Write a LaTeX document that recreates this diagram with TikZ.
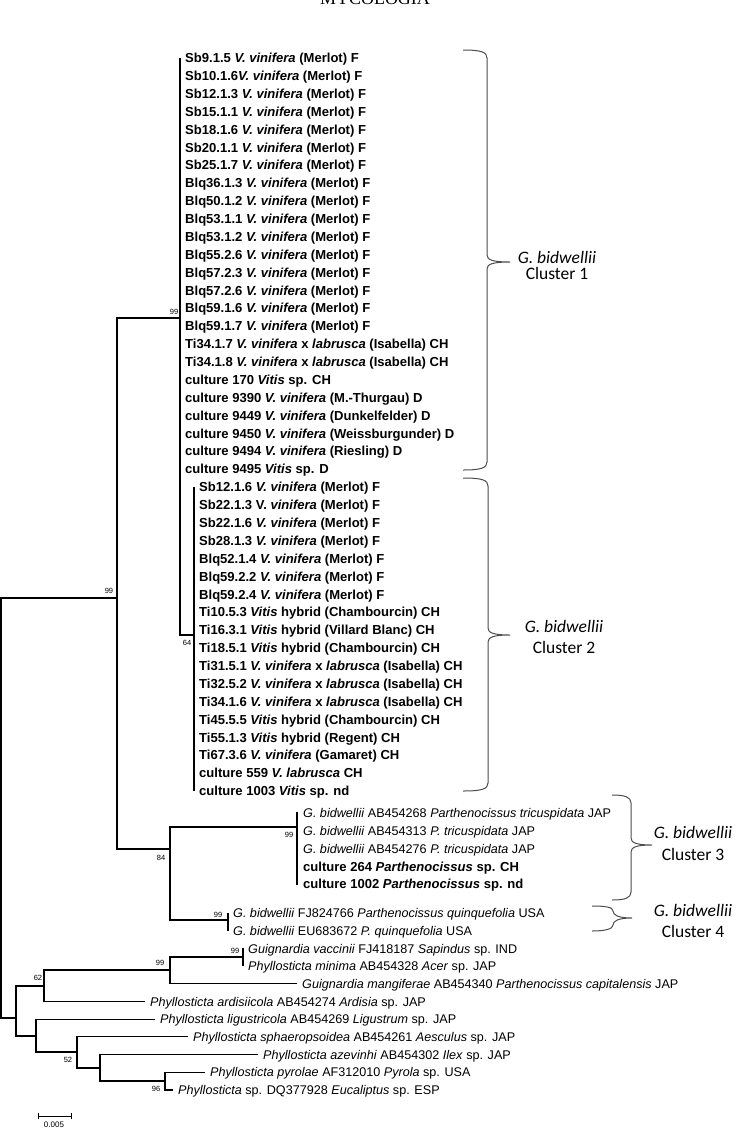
\documentclass[tikz,border=0pt]{standalone}
\usepackage{fontspec}
\setmainfont{Liberation Sans}
\newfontfamily\bracefont{Carlito}
\newfontfamily\headfont{Liberation Serif}
\newcommand\leafsize{\fontsize{12.6bp}{14bp}\selectfont}
\newcommand\leafbsize{\fontsize{13.05bp}{14bp}\selectfont}
\newcommand\clusterbrace[6]{%
  \draw[brace] (#1,#3) .. controls ({#2-6},#3) and (#2,{#3+2}) .. (#2,{#3+8})
    -- (#2,{#4-7}) .. controls (#2,{#4-2}) and ({#2+6},#4) .. (#6,#4)
    .. controls ({#2+6},#4) and (#2,{#4+2}) .. (#2,{#4+7})
    -- (#2,{#5-8}) .. controls (#2,{#5-2}) and ({#2-6},#5) .. (#1,#5);}
\begin{document}
\begin{tikzpicture}[x=1bp,y=-1bp,
  branch/.style={line width=1.1bp,black},
  brace/.style={line width=1bp,draw=black!70},
  leaf/.style={anchor=west,inner xsep=5bp,inner ysep=0pt,text height=9.4bp,text depth=0.2bp,font=\leafsize},
  leafb/.style={leaf,font=\leafbsize\bfseries},
  boot/.style={font=\fontsize{7.5bp}{8bp}\selectfont,inner sep=0pt},
  bl/.style={font=\bracefont\fontsize{17.5bp}{20bp}\selectfont,anchor=base,inner sep=0pt}]
\useasboundingbox (0,0) rectangle (740,1128);
% header (cut by page edge, as in the reference)
\node[font=\headfont\fontsize{18bp}{18bp}\selectfont,anchor=base,inner sep=0pt] (head) at (375,4) {MYCOLOGIA};

% internal nodes
\coordinate (root) at (1,808);
\coordinate (nA) at (117,598);
\coordinate (nClade) at (180,318);
\coordinate (n64) at (194,635);
\coordinate (n84) at (170,849);
\coordinate (n3) at (297,827);
\coordinate (n4) at (228,920);
\coordinate (nOut) at (16,1018);
\coordinate (n62) at (44,986);
\coordinate (n99g) at (170,970);
\coordinate (n99v) at (243,957);
\coordinate (n36) at (36,1036);
\coordinate (n52) at (77,1052);
\coordinate (n100) at (100,1068);
\coordinate (n96) at (165,1081);

% cluster 1 leaves
\foreach \t [count=\i] in {
 {Sb9.1.5 \textit{V. vinifera} (Merlot) F},
 {Sb10.1.6\textit{V. vinifera} (Merlot) F},
 {Sb12.1.3 \textit{V. vinifera} (Merlot) F},
 {Sb15.1.1 \textit{V. vinifera} (Merlot) F},
 {Sb18.1.6 \textit{V. vinifera} (Merlot) F},
 {Sb20.1.1 \textit{V. vinifera} (Merlot) F},
 {Sb25.1.7 \textit{V. vinifera} (Merlot) F},
 {Blq36.1.3 \textit{V. vinifera} (Merlot) F},
 {Blq50.1.2 \textit{V. vinifera} (Merlot) F},
 {Blq53.1.1 \textit{V. vinifera} (Merlot) F},
 {Blq53.1.2 \textit{V. vinifera} (Merlot) F},
 {Blq55.2.6 \textit{V. vinifera} (Merlot) F},
 {Blq57.2.3 \textit{V. vinifera} (Merlot) F},
 {Blq57.2.6 \textit{V. vinifera} (Merlot) F},
 {Blq59.1.6 \textit{V. vinifera} (Merlot) F},
 {Blq59.1.7 \textit{V. vinifera} (Merlot) F},
 {Ti34.1.7 \textit{V. vinifera} x \textit{labrusca} (Isabella) CH},
 {Ti34.1.8 \textit{V. vinifera} x \textit{labrusca} (Isabella) CH},
 {culture 170 \textit{Vitis} sp. CH},
 {culture 9390 \textit{V. vinifera} (M.-Thurgau) D},
 {culture 9449 \textit{V. vinifera} (Dunkelfelder) D},
 {culture 9450 \textit{V. vinifera} (Weissburgunder) D},
 {culture 9494 \textit{V. vinifera} (Riesling) D},
 {culture 9495 \textit{Vitis} sp. D}}
 \node[leafb] (c\i) at (180,{58+17.88*(\i-1)}) {\t};
% cluster 2 leaves
\foreach \t [count=\i] in {
 {Sb12.1.6 \textit{V. vinifera} (Merlot) F},
 {Sb22.1.3 V. \textit{vinifera} (Merlot) F},
 {Sb22.1.6 \textit{V. vinifera} (Merlot) F},
 {Sb28.1.3 \textit{V. vinifera} (Merlot) F},
 {Blq52.1.4 \textit{V. vinifera} (Merlot) F},
 {Blq59.2.2 \textit{V. vinifera} (Merlot) F},
 {Blq59.2.4 \textit{V. vinifera} (Merlot) F},
 {Ti10.5.3 \textit{Vitis} hybrid (Chambourcin) CH},
 {Ti16.3.1 \textit{Vitis} hybrid (Villard Blanc) CH},
 {Ti18.5.1 \textit{Vitis} hybrid (Chambourcin) CH},
 {Ti31.5.1 \textit{V. vinifera} x \textit{labrusca} (Isabella) CH},
 {Ti32.5.2 \textit{V. vinifera} x \textit{labrusca} (Isabella) CH},
 {Ti34.1.6 \textit{V. vinifera} x \textit{labrusca} (Isabella) CH},
 {Ti45.5.5 \textit{Vitis} hybrid (Chambourcin) CH},
 {Ti55.1.3 \textit{Vitis} hybrid (Regent) CH},
 {Ti67.3.6 \textit{V. vinifera} (Gamaret) CH},
 {culture 559 \textit{V. labrusca} CH},
 {culture 1003 \textit{Vitis} sp. nd}}
 \node[leafb] (d\i) at (194,{58+17.88*(\i+23)}) {\t};

% cluster 3 leaves
\node[leaf] (e1) at (298,813) {\textit{G. bidwellii} AB454268 \textit{Parthenocissus tricuspidata} JAP};
\node[leaf] (e2) at (298,830.8) {\textit{G. bidwellii} AB454313 \textit{P. tricuspidata} JAP};
\node[leaf] (e3) at (298,848.6) {\textit{G. bidwellii} AB454276 \textit{P. tricuspidata} JAP};
\node[leafb] (e4) at (298,866.4) {culture 264 \textit{Parthenocissus} sp. CH};
\node[leafb] (e5) at (298,884.2) {culture 1002 \textit{Parthenocissus} sp. nd};
% cluster 4 leaves
\node[leaf] (f1) at (228,913) {\textit{G. bidwellii} FJ824766 \textit{Parthenocissus quinquefolia} USA};
\node[leaf] (f2) at (228,930.7) {\textit{G. bidwellii} EU683672 \textit{P. quinquefolia} USA};
% outgroups
\node[leaf] (vac) at (243,948.4) {\textit{Guignardia vaccinii} FJ418187 \textit{Sapindus} sp. IND};
\node[leaf] (mini) at (243,966.1) {\textit{Phyllosticta minima} AB454328 \textit{Acer} sp. JAP};
\node[leaf] (mang) at (297,983.8) {\textit{Guignardia mangiferae} AB454340 \textit{Parthenocissus capitalensis} JAP};
\node[leaf] (ard) at (145,1001.5) {\textit{Phyllosticta ardisiicola} AB454274 \textit{Ardisia} sp. JAP};
\node[leaf] (lig) at (155,1019.2) {\textit{Phyllosticta ligustricola} AB454269 \textit{Ligustrum} sp. JAP};
\node[leaf] (sph) at (188,1036.9) {\textit{Phyllosticta sphaeropsoidea} AB454261 \textit{Aesculus} sp. JAP};
\node[leaf] (aze) at (258,1054.6) {\textit{Phyllosticta azevinhi} AB454302 \textit{Ilex} sp. JAP};
\node[leaf] (pyr) at (205,1072.3) {\textit{Phyllosticta pyrolae} AF312010 \textit{Pyrola} sp. USA};
\node[leaf] (psp) at (173,1090) {\textit{Phyllosticta} sp. DQ377928 \textit{Eucaliptus} sp. ESP};

% branches
\draw[branch] (root) |- (nA);
\draw[branch] (root) |- (nOut);
\draw[branch] (nA) |- (nClade);
\draw[branch] (nA) |- (n84);
\foreach \i in {1,...,24} \draw[branch] (nClade) |- (c\i.west);
\draw[branch] (nClade) |- (n64);
\foreach \i in {1,...,18} \draw[branch] (n64) |- (d\i.west);
\draw[branch] (n84) |- (n3);
\draw[branch] (n84) |- (n4);
\foreach \i in {1,...,5} \draw[branch] (n3) |- (e\i.west);
\draw[branch] (n4) |- (f1.west);
\draw[branch] (n4) |- (f2.west);
\draw[branch] (nOut) |- (n62);
\draw[branch] (nOut) |- (n36);
\draw[branch] (n62) |- (n99g);
\draw[branch] (n62) |- (ard.west);
\draw[branch] (n99g) |- (n99v);
\draw[branch] (n99g) |- (mang.west);
\draw[branch] (n99v) |- (vac.west);
\draw[branch] (n99v) |- (mini.west);
\draw[branch] (n36) |- (lig.west);
\draw[branch] (n36) |- (n52);
\draw[branch] (n52) |- (sph.west);
\draw[branch] (n52) |- (n100);
\draw[branch] (n100) |- (aze.west);
\draw[branch] (n100) |- (n96);
\draw[branch] (n96) |- (pyr.west);
\draw[branch] (n96) |- (psp.west);

% bootstrap values
\node[boot] (b1) at (109,591) {99};
\node[boot] (b2) at (174,312) {99};
\node[boot] (b3) at (187,643) {64};
\node[boot] (b4) at (161,858) {84};
\node[boot] (b5) at (289,835) {99};
\node[boot] (b6) at (218,915) {99};
\node[boot] (b7) at (235,951) {99};
\node[boot] (b8) at (160,963) {99};
\node[boot] (b9) at (38,978) {62};
\node[boot] (b10) at (68,1060) {52};
\node[boot] (b11) at (156,1089) {96};

% scale bar
\coordinate (sb1) at (38,1116);
\coordinate (sb2) at (71,1116);
\draw[line width=0.9bp] (sb1) -- (sb2);
\draw[line width=0.9bp] ([yshift=-3bp]sb1) -- ([yshift=3bp]sb1);
\draw[line width=0.9bp] ([yshift=-3bp]sb2) -- ([yshift=3bp]sb2);
\node[boot,font=\fontsize{8bp}{9bp}\selectfont] (sbl) at (54,1125) {0.005};

% cluster braces
\clusterbrace{463}{487}{50}{262}{470}{510}
\clusterbrace{463}{488}{478}{635}{791}{510}
\clusterbrace{612}{631}{795}{845}{900}{652}
\draw[brace] (592,906) .. controls (605,906) and (613,907) .. (613,911)
  .. controls (613,915) and (618,918) .. (632,918)
  .. controls (618,918) and (613,921) .. (613,925)
  .. controls (613,929) and (605,931) .. (592,931);

\node[bl] (g1) at (557,263) {\itshape G. bidwellii};
\node[bl] (k1) at (557,279) {Cluster 1};
\node[bl] (g2) at (564,632) {\itshape G. bidwellii};
\node[bl] (k2) at (564,653) {Cluster 2};
\node[bl] (g3) at (693,838) {\itshape G. bidwellii};
\node[bl] (k3) at (693,860) {Cluster 3};
\node[bl] (g4) at (693,916) {\itshape G. bidwellii};
\node[bl] (k4) at (693,937) {Cluster 4};
\end{tikzpicture}
\end{document}
